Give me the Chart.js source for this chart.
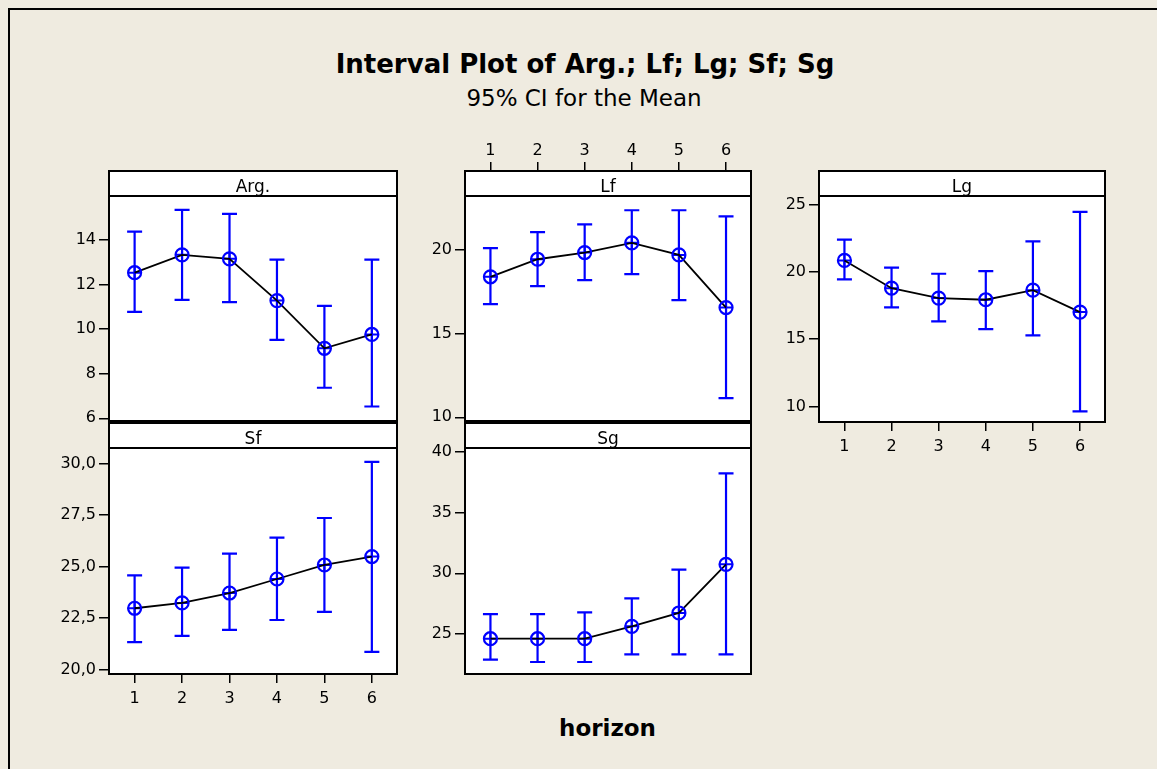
<!DOCTYPE html>
<html>
<head>
<meta charset="utf-8">
<script src="https://cdn.jsdelivr.net/npm/chart.js@4/dist/chart.umd.min.js"></script>
<style>
  html, body { margin: 0; padding: 0; width: 1157px; height: 769px; overflow: hidden; background: #EFEBE0; font-family: 'DejaVu Sans', sans-serif; }
  #frame { position: absolute; left: 8px; top: 8px; width: 1149px; height: 761px; border-left: 2px solid #000; border-top: 2px solid #000; box-sizing: border-box; }
  .txt { position: absolute; left: 0; text-align: center; color: #000; white-space: nowrap; }
  #title { width: 1170px; top: 51px; font-size: 26px; line-height: 26px; font-weight: bold; }
  #subtitle { width: 1168px; top: 87px; font-size: 23px; line-height: 23px; }
  #xlabel { width: 1215px; top: 717px; font-size: 23px; line-height: 23px; font-weight: bold; }
  canvas { position: absolute; }
</style>
</head>
<body>
<div id="frame"></div>
<div class="txt" id="title">Interval Plot of Arg.; Lf; Lg; Sf; Sg</div>
<div class="txt" id="subtitle">95% CI for the Mean</div>
<div class="txt" id="xlabel">horizon</div>
<canvas id="cArg"></canvas>
<canvas id="cLf"></canvas>
<canvas id="cLg"></canvas>
<canvas id="cSf"></canvas>
<canvas id="cSg"></canvas>
<script>
// ---------- data ----------
const horizons = [1, 2, 3, 4, 5, 6];

const argMean = [12.53, 13.33, 13.15, 11.28, 9.14, 9.76];
const argLow  = [10.77, 11.31, 11.21, 9.52, 7.37, 6.53];
const argHigh = [14.37, 15.35, 15.17, 13.12, 11.04, 13.12];

const lfMean = [18.41, 19.46, 19.86, 20.44, 19.72, 16.57];
const lfLow  = [16.77, 17.85, 18.21, 18.57, 17.01, 11.15];
const lfHigh = [20.12, 21.08, 21.55, 22.39, 22.39, 22.03];

const lgMean = [20.84, 18.78, 18.04, 17.92, 18.63, 17.00];
const lgLow  = [19.43, 17.35, 16.31, 15.74, 15.27, 9.63];
const lgHigh = [22.38, 20.30, 19.85, 20.05, 22.25, 24.45];

const sfMean = [22.98, 23.24, 23.72, 24.40, 25.08, 25.49];
const sfLow  = [21.34, 21.64, 21.93, 22.41, 22.80, 20.86];
const sfHigh = [24.58, 24.95, 25.63, 26.41, 27.36, 30.08];

const sgMean = [24.61, 24.61, 24.61, 25.63, 26.73, 30.74];
const sgLow  = [22.88, 22.69, 22.69, 23.31, 23.31, 23.31];
const sgHigh = [26.64, 26.64, 26.78, 27.93, 30.30, 38.24];

const xTicks = [1, 2, 3, 4, 5, 6];
const argTicks = [6, 8, 10, 12, 14];
const lfTicks = [10, 15, 20];
const lgTicks = [10, 15, 20, 25];
const sfTicks = [20, 22.5, 25, 27.5, 30];
const sfTickLabels = ['20,0', '22,5', '25,0', '27,5', '30,0'];
const sgTicks = [25, 30, 35, 40];

// ---------- styling / layout ----------
Chart.defaults.font.family = "'DejaVu Sans', sans-serif";
Chart.defaults.font.size = 16;
Chart.defaults.color = '#000';

const BLUE = '#0000FF';
const HEADER_H = 25;
const YW = 55;

const panelPlugin = {
  id: 'panel',
  beforeDraw(chart) {
    const a = chart.chartArea, ctx = chart.ctx;
    ctx.save();
    ctx.fillStyle = '#fff';
    ctx.fillRect(a.left, a.top, a.right - a.left, a.bottom - a.top);
    ctx.restore();
  },
  beforeDatasetsDraw(chart, args, opts) {
    const ctx = chart.ctx, xs = chart.scales.x, ys = chart.scales.y;
    ctx.save();
    ctx.strokeStyle = BLUE;
    ctx.lineWidth = 2.2;
    for (let i = 0; i < horizons.length; i++) {
      const x = xs.getPixelForValue(horizons[i]);
      const y1 = ys.getPixelForValue(opts.low[i]);
      const y2 = ys.getPixelForValue(opts.high[i]);
      ctx.beginPath();
      ctx.moveTo(x, y1); ctx.lineTo(x, y2);
      ctx.moveTo(x - 7.5, y1); ctx.lineTo(x + 7.5, y1);
      ctx.moveTo(x - 7.5, y2); ctx.lineTo(x + 7.5, y2);
      ctx.stroke();
    }
    ctx.restore();
  },
  afterDraw(chart, args, opts) {
    const a = chart.chartArea, ctx = chart.ctx;
    ctx.save();
    ctx.fillStyle = '#fff';
    ctx.fillRect(a.left, a.top, a.right - a.left, HEADER_H);
    ctx.strokeStyle = '#000';
    ctx.lineWidth = 2;
    ctx.strokeRect(a.left, a.top, a.right - a.left, HEADER_H);
    ctx.strokeRect(a.left, a.top, a.right - a.left, a.bottom - a.top);
    ctx.fillStyle = '#000';
    ctx.font = "17px 'DejaVu Sans', sans-serif";
    ctx.textAlign = 'center';
    ctx.textBaseline = 'alphabetic';
    ctx.fillText(opts.label, (a.left + a.right) / 2, a.top + HEADER_H - 4);
    ctx.restore();
  }
};

function fixPad(scale) {
  scale.paddingTop = 0; scale.paddingBottom = 0;
  scale.paddingLeft = 0; scale.paddingRight = 0;
}

function makePanel(id, box, cfg) {
  const topH = cfg.xPos === 'top' ? 42 : 0;
  const botH = cfg.xPos === 'bottom' ? 34 : 0;
  const padT = topH ? 0 : 3;
  const padB = botH ? 0 : 3;
  const w = (box.r - box.l) + YW + 3;
  const h = topH + padT + (box.b - box.t) + botH + padB;
  const cv = document.getElementById(id);
  cv.width = w; cv.height = h;
  cv.style.width = w + 'px'; cv.style.height = h + 'px';
  cv.style.left = (box.l - YW) + 'px';
  cv.style.top = (box.t - topH - padT) + 'px';

  new Chart(cv, {
    type: 'line',
    data: {
      labels: horizons,
      datasets: [
        {
          data: horizons.map((h, i) => ({ x: h, y: cfg.mean[i] })),
          borderColor: '#000', borderWidth: 1.8, tension: 0, fill: false,
          pointStyle: 'circle', pointRadius: 6.5, pointBorderWidth: 2.2,
          pointBorderColor: BLUE, pointBackgroundColor: 'rgba(0,0,0,0)'
        },
        {
          data: horizons.map((h, i) => ({ x: h, y: cfg.mean[i] })),
          showLine: false,
          pointStyle: 'cross', pointRadius: 7, pointBorderWidth: 2,
          pointBorderColor: BLUE, pointBackgroundColor: BLUE
        }
      ]
    },
    options: {
      responsive: false,
      animation: false,
      devicePixelRatio: 1,
      events: [],
      layout: { autoPadding: false, padding: { left: 0, right: 3, top: padT, bottom: padB } },
      plugins: {
        legend: { display: false },
        tooltip: { enabled: false },
        panel: { label: cfg.label, low: cfg.low, high: cfg.high }
      },
      scales: {
        x: {
          type: 'linear',
          display: cfg.xPos !== 'none',
          position: cfg.xPos === 'top' ? 'top' : 'bottom',
          min: 0.46, max: 6.53,
          afterBuildTicks: s => { s.ticks = xTicks.map(v => ({ value: v })); },
          afterFit: s => { fixPad(s); if (cfg.xPos === 'top') s.height = topH; else if (cfg.xPos === 'bottom') s.height = botH; },
          border: { display: false },
          grid: { display: true, drawOnChartArea: false, drawTicks: true, tickLength: 9, color: '#000', lineWidth: 1.5 },
          ticks: { padding: cfg.xPos === 'top' ? 2 : 6, maxRotation: 0, autoSkip: false, font: { size: 16 }, color: '#000' }
        },
        y: {
          type: 'linear',
          min: cfg.yMin, max: cfg.yMax,
          afterBuildTicks: s => { s.ticks = cfg.yTicks.map(v => ({ value: v })); },
          afterFit: s => { fixPad(s); s.width = YW; },
          border: { display: false },
          grid: { display: true, drawOnChartArea: false, drawTicks: true, tickLength: 10, color: '#000', lineWidth: 1.5 },
          ticks: {
            padding: 3, font: { size: 16 }, color: '#000', autoSkip: false,
            callback: v => {
              const k = cfg.yTicks.indexOf(v);
              return cfg.yLabels ? cfg.yLabels[k] : String(v);
            }
          }
        }
      }
    },
    plugins: [panelPlugin]
  });
}

makePanel('cArg', { l: 109, t: 171, r: 397, b: 421 },
  { label: 'Arg.', mean: argMean, low: argLow, high: argHigh, yMin: 5.88, yMax: 17.09, yTicks: argTicks, xPos: 'none' });
makePanel('cLf', { l: 465, t: 171, r: 751, b: 421 },
  { label: 'Lf', mean: lfMean, low: lfLow, high: lfHigh, yMin: 9.78, yMax: 24.74, yTicks: lfTicks, xPos: 'top' });
makePanel('cLg', { l: 819, t: 171, r: 1105, b: 422 },
  { label: 'Lg', mean: lgMean, low: lgLow, high: lgHigh, yMin: 8.84, yMax: 27.48, yTicks: lgTicks, xPos: 'bottom' });
makePanel('cSf', { l: 109, t: 423, r: 397, b: 674 },
  { label: 'Sf', mean: sfMean, low: sfLow, high: sfHigh, yMin: 19.79, yMax: 31.97, yTicks: sfTicks, yLabels: sfTickLabels, xPos: 'bottom' });
makePanel('cSg', { l: 465, t: 423, r: 751, b: 674 },
  { label: 'Sg', mean: sgMean, low: sgLow, high: sgHigh, yMin: 21.70, yMax: 42.39, yTicks: sgTicks, xPos: 'none' });
</script>
</body>
</html>
